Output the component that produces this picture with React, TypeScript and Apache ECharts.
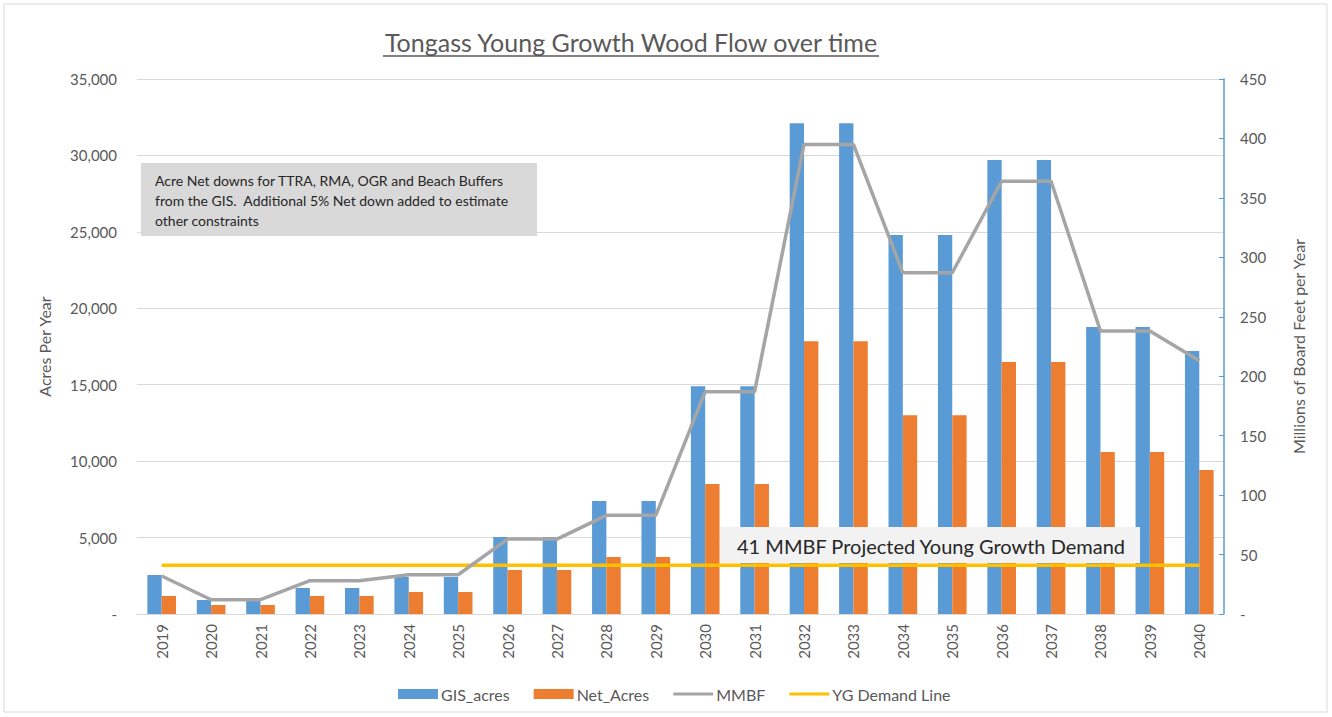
import React, { useEffect, useRef } from "react";
import * as echarts from "echarts";

const years = ["2019","2020","2021","2022","2023","2024","2025","2026","2027","2028","2029","2030","2031","2032","2033","2034","2035","2036","2037","2038","2039","2040"];
const gisAcres = [2550, 915, 915, 1700, 1700, 2420, 2420, 5030, 5030, 7390, 7390, 14900, 14900, 32100, 32100, 24800, 24800, 29700, 29700, 18770, 18770, 17200];
const netAcres = [1180, 590, 590, 1180, 1180, 1440, 1440, 2880, 2880, 3730, 3730, 8500, 8500, 17850, 17850, 13000, 13000, 16480, 16480, 10600, 10600, 9420];
const mmbf = [32, 12, 12, 28, 28, 33, 33, 63, 63, 83, 83, 187, 187, 395, 395, 287, 287, 364, 364, 238, 238, 213];
const ygDemand = [41, 41, 41, 41, 41, 41, 41, 41, 41, 41, 41, 41, 41, 41, 41, 41, 41, 41, 41, 41, 41, 41];

const titleText = "Tongass Young Growth Wood Flow over time";
const noteText = "Acre Net downs for TTRA, RMA, OGR and Beach Buffers\nfrom the GIS.  Additional 5% Net down added to estimate\nother constraints";
const demandText = "41 MMBF Projected Young Growth Demand";

const FONT = "Lato, 'Open Sans', sans-serif";
const TXT = "#595959";
const LINE_ICON = "path://M0,0 L40,0 L40,3 L0,3 Z";

export default function App() {
  const ref = useRef<HTMLDivElement>(null);
  useEffect(() => {
    document.body.style.margin = "0";
    const chart = echarts.init(ref.current!, null, { renderer: "svg" });
    chart.setOption({
      animation: false,
      backgroundColor: "#ffffff",
      textStyle: { fontFamily: FONT },
      grid: { left: 137, right: 108, top: 79, bottom: 103, containLabel: false },
      legend: {
        left: 393,
        top: 681,
        itemGap: 24,
        itemWidth: 40,
        itemHeight: 10,
        symbolKeepAspect: true,
        textStyle: { color: TXT, fontSize: 16, fontFamily: FONT, padding: [0, 0, 0, -2] },
        data: [
          { name: "GIS_acres", icon: "rect" },
          { name: "Net_Acres", icon: "rect" },
          { name: "MMBF", icon: LINE_ICON },
          { name: "YG Demand Line", icon: LINE_ICON },
        ],
      },
      xAxis: {
        type: "category",
        data: years,
        axisLine: { lineStyle: { color: "#d9d9d9" } },
        axisTick: { show: false },
        axisLabel: { rotate: 90, color: TXT, fontSize: 15, margin: 10, fontFamily: FONT },
      },
      yAxis: [
        {
          type: "value",
          min: 0,
          max: 35000,
          interval: 5000,
          name: "Acres Per Year",
          nameLocation: "middle",
          nameGap: 85,
          nameTextStyle: { color: TXT, fontSize: 16, fontFamily: FONT },
          axisLine: { show: false },
          axisTick: { show: false },
          splitLine: { lineStyle: { color: "#d9d9d9" } },
          axisLabel: {
            color: TXT,
            fontSize: 15,
            margin: 20,
            fontFamily: FONT,
            formatter: (v: number) => (v === 0 ? "-" : v.toLocaleString("en-US")),
          },
        },
        {
          type: "value",
          min: 0,
          max: 450,
          interval: 50,
          name: "Millions of Board Feet per Year",
          nameLocation: "middle",
          nameGap: 66,
          nameTextStyle: { color: TXT, fontSize: 16, fontFamily: FONT },
          axisLine: { show: true, lineStyle: { color: "#5b9bd5", width: 1.5 } },
          axisTick: { show: true, inside: true, length: 5, lineStyle: { color: "#5b9bd5" } },
          splitLine: { show: false },
          axisLabel: {
            color: TXT,
            fontSize: 15,
            margin: 16,
            fontFamily: FONT,
            formatter: (v: number) => (v === 0 ? "-" : String(v)),
          },
        },
      ],
      series: [
        {
          name: "GIS_acres",
          type: "bar",
          data: gisAcres,
          yAxisIndex: 0,
          barGap: "0%",
          barCategoryGap: "42%",
          itemStyle: { color: "#5b9bd5" },
        },
        {
          name: "Net_Acres",
          type: "bar",
          data: netAcres,
          yAxisIndex: 0,
          barGap: "0%",
          barCategoryGap: "42%",
          itemStyle: { color: "#ed7d31" },
        },
        {
          name: "MMBF",
          type: "line",
          data: mmbf,
          yAxisIndex: 1,
          symbol: "none",
          lineStyle: { color: "#a5a5a5", width: 3.5 },
          itemStyle: { color: "#a5a5a5" },
          z: 5,
        },
        {
          name: "YG Demand Line",
          type: "line",
          data: ygDemand,
          yAxisIndex: 1,
          symbol: "none",
          lineStyle: { color: "#ffc000", width: 3.5 },
          itemStyle: { color: "#ffc000" },
          z: 4,
        },
      ],
      graphic: [
        {
          type: "rect",
          shape: { x: 4, y: 4, width: 1323, height: 708 },
          style: { fill: "none", stroke: "#d9d9d9", lineWidth: 1 },
          silent: true,
        },
        {
          type: "text",
          x: 631,
          y: 42,
          style: {
            text: titleText,
            font: `25px ${FONT}`,
            fill: TXT,
            textAlign: "center",
            textVerticalAlign: "middle",
          },
        },
        {
          type: "line",
          shape: { x1: 383, y1: 56, x2: 879, y2: 56 },
          style: { stroke: TXT, lineWidth: 1.5 },
        },
        {
          type: "rect",
          shape: { x: 141, y: 163, width: 396, height: 73 },
          style: { fill: "#d9d9d9" },
          z: 10,
        },
        {
          type: "text",
          x: 155,
          y: 170,
          z: 11,
          style: {
            text: noteText,
            font: `14px ${FONT}`,
            fill: "#262626",
            lineHeight: 20,
          },
        },
        {
          type: "rect",
          shape: { x: 720, y: 527, width: 420, height: 36 },
          style: { fill: "#f2f2f2" },
          z: 10,
        },
        {
          type: "text",
          x: 737,
          y: 546,
          z: 11,
          style: {
            text: demandText,
            font: `20px ${FONT}`,
            fill: "#262626",
            textVerticalAlign: "middle",
          },
        },
      ],
    });
    return () => chart.dispose();
  }, []);
  return <div ref={ref} style={{ width: 1332, height: 717 }} />;
}
